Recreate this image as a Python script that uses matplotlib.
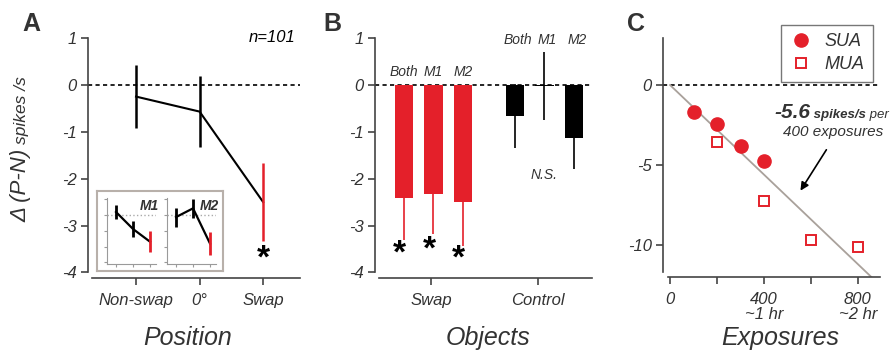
import numpy as np
import matplotlib.pyplot as plt

plt.rcParams['font.family'] = ['Liberation Sans', 'DejaVu Sans']
plt.rcParams['font.style'] = 'italic'

RED = '#e4202a'
DARK = '#333333'
GRAY = '#a9a19b'

# ---- panel A: position
positions = ['Non-swap', '0°', 'Swap']
pos_mean = [-0.25, -0.57, -2.5]
pos_err = [0.68, 0.76, 0.83]
# insets (per monkey)
m1_mean = [0.17, -0.9, -1.7]
m1_err = [0.43, 0.5, 0.65]
m2_mean = [-0.15, 0.4, -1.82]
m2_err = [0.6, 0.6, 0.72]

# ---- panel B: objects
groups = ['Swap', 'Control']
bar_names = ['Both', 'M1', 'M2']
swap_vals = [-2.42, -2.33, -2.5]
swap_err = [0.88, 0.85, 0.93]
ctrl_vals = [-0.67, -0.02, -1.13]
ctrl_err = [0.68, 0.72, 0.67]

# ---- panel C: exposures
sua_x = [100, 200, 300, 400]
sua_y = [-1.67, -2.44, -3.79, -4.73]
mua_x = [200, 400, 600, 800]
mua_y = [-3.54, -7.25, -9.69, -10.15]
slope = -5.6 / 400

W, H = 894, 351
fig = plt.figure(figsize=(W / 100, H / 100), dpi=100)


def px_axes(l, r, t, b):
    return fig.add_axes([l / W, 1 - b / H, (r - l) / W, (b - t) / H])


def style(ax, lw=1.2, color='#444444', tl=5, fs=12):
    for s in ['top', 'right']:
        ax.spines[s].set_visible(False)
    for s in ['left', 'bottom']:
        ax.spines[s].set_linewidth(lw)
        ax.spines[s].set_color(color)
    ax.tick_params(length=tl, width=lw, color=color, labelsize=fs,
                   labelcolor=DARK, pad=3)
    ax.tick_params(axis='x', pad=6)


# ================= A
axA = px_axes(88, 300, 38, 278)
style(axA)
xa = np.arange(len(positions))
axA.axhline(0, color='black', ls=(0, (2.5, 2)), lw=1.2, zorder=1)
axA.plot(xa, pos_mean, color='black', lw=1.5, zorder=2)
axA.errorbar(xa[:2], pos_mean[:2], yerr=pos_err[:2], fmt='none',
             ecolor='black', elinewidth=1.8, zorder=3)
axA.errorbar(xa[2:], pos_mean[2:], yerr=pos_err[2:], fmt='none',
             ecolor=RED, elinewidth=1.8, zorder=3)
axA.set_xlim(-0.756, 2.58)
axA.set_ylim(-4.12, 1.0)
axA.spines['left'].set_bounds(-4, 1)
axA.spines['bottom'].set_bounds(-0.69, 2.58)
axA.set_yticks([1, 0, -1, -2, -3, -4])
axA.set_yticklabels(['1', '0', '-1', '-2', '-3', '-4'])
axA.set_xticks(xa)
axA.set_xticklabels(positions)
axA.text(2, -3.72, '*', fontsize=24, fontweight='bold', fontstyle='normal',
         ha='center', va='center')
axA.text(0.98, 1.0, 'n=101', transform=axA.transAxes, fontsize=12,
         ha='right', va='center')

# inset box + mini panels
box = px_axes(97, 223, 191, 271)
box.set_xticks([])
box.set_yticks([])
for s in box.spines.values():
    s.set_color('#b8b0aa')
    s.set_linewidth(1.5)

for left, name, mm, me in [(107, 'M1', m1_mean, m1_err),
                           (167, 'M2', m2_mean, m2_err)]:
    mi = px_axes(left, left + 49, 198, 264)
    mi.patch.set_alpha(0)
    style(mi, lw=0.8, color='#9a9a9a', tl=2.5)
    mi.set_xlim(-0.53, 2.35)
    mi.set_ylim(-3.1, 1.05)
    mi.set_xticks([0, 1, 2])
    mi.set_xticklabels([])
    mi.set_yticks([1, 0, -1, -2, -3])
    mi.set_yticklabels([])
    mi.axhline(0, color='#aaaaaa', ls=':', lw=1)
    mi.plot([0, 1, 2], mm, color='black', lw=1.6)
    mi.errorbar([0, 1], mm[:2], yerr=me[:2], fmt='none', ecolor='black',
                elinewidth=2)
    mi.errorbar([2], mm[2:], yerr=me[2:], fmt='none', ecolor=RED,
                elinewidth=2)
    mi.text(0.86, 0.88, name, transform=mi.transAxes, fontsize=10,
            fontweight='bold', ha='center', va='center', color=DARK)

# ================= B
axB = px_axes(375, 592, 38, 278)
style(axB)
xs = np.arange(3)
xc = np.arange(3) + 3.76
axB.axhline(0, color='black', ls=(0, (2.5, 2)), lw=1.2, zorder=1)
axB.bar(xs, swap_vals, width=0.63, color=RED, zorder=2)
axB.bar(xc, ctrl_vals, width=0.63, color='black', zorder=2)
axB.errorbar(xs, swap_vals, yerr=swap_err, fmt='none', ecolor=RED,
             elinewidth=1.2, zorder=1.5)
axB.errorbar(xc, ctrl_vals, yerr=ctrl_err, fmt='none', ecolor='black',
             elinewidth=1.2, zorder=1.5)
axB.set_xlim(-0.98, 6.37)
axB.set_ylim(-4.12, 1.0)
axB.spines['left'].set_bounds(-4, 1)
axB.spines['bottom'].set_bounds(-0.85, 6.37)
axB.set_yticks([1, 0, -1, -2, -3, -4])
axB.set_yticklabels(['1', '0', '-1', '-2', '-3', '-4'])
axB.set_xticks([0.92, 4.55])
axB.set_xticklabels(groups)
for x, n in zip(xs, bar_names):
    axB.text(x, 0.27, n, fontsize=10, ha='center', va='center', color=DARK)
for x, n in zip(xc, bar_names):
    axB.text(x + 0.1, 0.96, n, fontsize=10, ha='center', va='center',
             color=DARK)
for x, y in zip(xs, [-3.6, -3.53, -3.72]):
    axB.text(x - 0.15, y, '*', fontsize=24, fontweight='bold',
             fontstyle='normal', ha='center', va='center')
axB.text(xc[1], -1.92, 'N.S.', fontsize=10, ha='center', va='center',
         color=DARK)

# ================= C
axC = px_axes(663, 880, 38, 277)
style(axC)
axC.axhline(0, color='black', ls=(0, (2.5, 2)), lw=1.2, zorder=1)
fx = np.array([0, 900])
axC.plot(fx, slope * fx, color=GRAY, lw=1.3, zorder=1.5)
axC.plot(sua_x, sua_y, 'o', color=RED, ms=9.5, label='SUA', zorder=3)
axC.plot(mua_x, mua_y, 's', mfc='white', mec=RED, mew=1.4, ms=7.5,
         label='MUA', zorder=3)
axC.set_xlim(-30, 894)
axC.set_ylim(-12, 2.94)
axC.spines['left'].set_bounds(-11.7, 2.94)
axC.spines['bottom'].set_bounds(-8.5, 894)
axC.set_yticks([0, -5, -10])
axC.set_yticklabels(['0', '-5', '-10'])
axC.set_xticks([0, 200, 400, 600, 800])
axC.set_xticklabels(['0', '', '400\n~1 hr', '', '800\n~2 hr'],
                    linespacing=0.95)
leg = axC.legend(loc='upper right', bbox_to_anchor=(873 / W, 1 - 25 / H),
                 bbox_transform=fig.transFigure, borderaxespad=0,
                 fontsize=13, frameon=True, fancybox=False,
                 handletextpad=0.7, borderpad=0.45, labelspacing=0.35,
                 handlelength=1.3)
leg.get_frame().set_edgecolor('#555555')
leg.get_frame().set_linewidth(1.0)
for t in leg.get_texts():
    t.set_color(DARK)
axC.annotate('', xy=(549, -6.75), xytext=(672, -3.9),
             arrowprops=dict(arrowstyle='-|>', color='black', lw=1.2,
                             mutation_scale=12))

# slope note: pieces placed one after the other, ending near the right edge
renderer = fig.canvas.get_renderer()
pieces = []
x0 = 0
for s, size, weight in [('-5.6', 15, 'bold'), (' spikes/s', 9.5, 'bold'),
                        (' per', 9.5, 'normal')]:
    t = fig.text(x0 / W, 1 - 118 / H, s, fontsize=size, fontweight=weight,
                 va='baseline', color=DARK)
    x0 = t.get_window_extent(renderer).x1
    pieces.append(t)
shift = 889 - x0
for t in pieces:
    x, y = t.get_position()
    t.set_position((x + shift / W, y))
fig.text(833 / W, 1 - 136 / H, '400 exposures', fontsize=11, ha='center',
         va='baseline', color=DARK)

# ---- shared labels
fig.text(26 / W, 1 - 222 / H, 'Δ (P-N)', fontsize=16, rotation=90,
         rotation_mode='anchor', ha='left', va='baseline', color=DARK)
fig.text(26 / W, 1 - 144 / H, 'spikes /s', fontsize=12.5, rotation=90,
         rotation_mode='anchor', ha='left', va='baseline', color=DARK)
for x, s in [(188, 'Position'), (488, 'Objects'), (780, 'Exposures')]:
    fig.text(x / W, 1 - 338 / H, s, fontsize=18, ha='center', va='center',
             color=DARK)
for x, s in [(31, 'A'), (332, 'B'), (636, 'C')]:
    fig.text(x / W, 1 - 24 / H, s, fontsize=18, fontweight='bold',
             fontstyle='normal', ha='center', va='center', color=DARK)

fig.savefig('out.png', dpi=100)
